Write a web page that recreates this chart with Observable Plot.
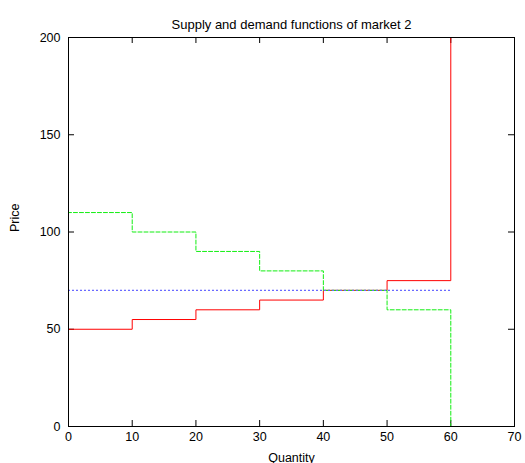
<!DOCTYPE html>
<html>
<head>
<meta charset="utf-8">
<script src="https://cdn.jsdelivr.net/npm/d3@7"></script>
<script src="https://cdn.jsdelivr.net/npm/@observablehq/plot@0.6"></script>
<style>
  html, body { margin: 0; padding: 0; background: #fff; }
  svg { font-family: "Liberation Sans", Arial, sans-serif; }
</style>
</head>
<body>
<div id="chart"></div>
<script>
const title = "Supply and demand functions of market 2";
const xLabel = "Quantity";
const yLabel = "Price";
const xTicks = [0, 10, 20, 30, 40, 50, 60, 70];
const yTicks = [0, 50, 100, 150, 200];

// Supply step function (step-after)
const supplyQ = [0, 0, 10, 20, 30, 40, 50, 60];
const supplyP = [0, 50, 55, 60, 65, 70, 75, 200];
// Demand step function (step-after)
const demandQ = [0, 0, 10, 20, 30, 40, 50, 60];
const demandP = [200, 110, 100, 90, 80, 70, 60, 0];
// Equilibrium price line
const eqPrice = [70];
const eqRange = [0, 60];

const supply = supplyQ.map((q, i) => ({q, p: supplyP[i]}));
const demand = demandQ.map((q, i) => ({q, p: demandP[i]}));

const W = 525, H = 463;
const mL = 68, mR = 11, mT = 37, mB = 37;
const pw = W - mL - mR, ph = H - mT - mB;
const tk = 6;

const chart = Plot.plot({
  width: W,
  height: H,
  marginLeft: mL,
  marginRight: mR,
  marginTop: mT,
  marginBottom: mB,
  style: {fontSize: "12.5px", fontFamily: "Liberation Sans, Arial, sans-serif", color: "#000"},
  x: {domain: [0, 70]},
  y: {domain: [0, 200]},
  marks: [
    // inward ticks, mirrored on all sides
    Plot.ruleX(xTicks, {x: d => d, insetTop: ph - tk, stroke: "#000"}),
    Plot.ruleX(xTicks, {x: d => d, insetBottom: ph - tk, stroke: "#000"}),
    Plot.ruleY(yTicks, {y: d => d, insetRight: pw - tk, stroke: "#000"}),
    Plot.ruleY(yTicks, {y: d => d, insetLeft: pw - tk, stroke: "#000"}),
    Plot.axisX(xTicks, {anchor: "bottom", tickSize: 0, tickPadding: 6, label: null, fontSize: 12.5}),
    Plot.axisY(yTicks, {anchor: "left", tickSize: 0, tickPadding: 8, label: null, fontSize: 12.5}),
    Plot.line(supply, {x: "q", y: "p", curve: "step-after", stroke: "#ff0000", strokeWidth: 1}),
    Plot.line(demand, {x: "q", y: "p", curve: "step-after", stroke: "#11ee11", strokeWidth: 1, strokeDasharray: "4,2"}),
    Plot.ruleY(eqPrice, {y: d => d, x1: eqRange[0], x2: eqRange[1], stroke: "#6a6aff", strokeWidth: 1.2, strokeDasharray: "2,2"}),
    Plot.frame({stroke: "#000"}),
    Plot.text([title], {frameAnchor: "top", dy: -18, fontSize: 13, fill: "#000"}),
    Plot.text([xLabel], {frameAnchor: "bottom", dy: 35, fontSize: 12.5, fill: "#000"}),
    Plot.text([yLabel], {frameAnchor: "left", dx: -54, rotate: -90, fontSize: 12.5, fill: "#000"})
  ]
});
document.getElementById("chart").appendChild(chart);
</script>
</body>
</html>
